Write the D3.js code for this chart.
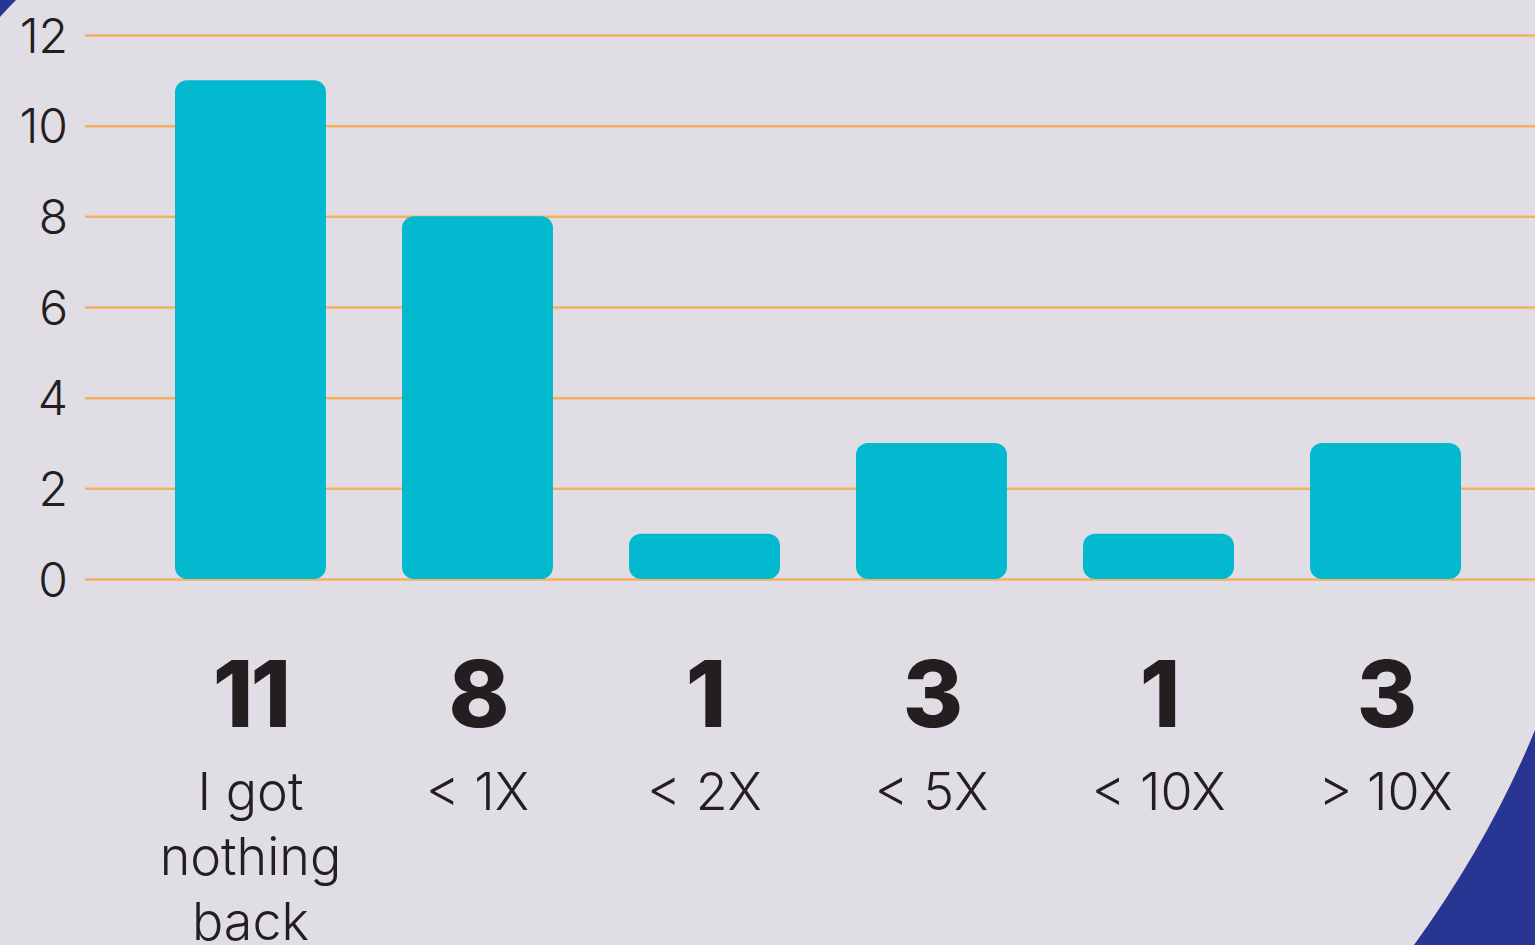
<!DOCTYPE html>
<html>
<head>
<meta charset="utf-8">
<script src="https://cdn.jsdelivr.net/npm/d3@7"></script>
<style>
  html, body { margin: 0; padding: 0; background: #e0dee4; overflow: hidden; }
  svg { display: block; }
</style>
</head>
<body>
<div id="chart"></div>
<script>
'use strict'

// data
const categories = ['I got nothing back', '< 1X', '< 2X', '< 5X', '< 10X', '> 10X']
const categoryLines = [['I got', 'nothing', 'back'], ['< 1X'], ['< 2X'], ['< 5X'], ['< 10X'], ['> 10X']]
const counts = [11, 8, 1, 3, 1, 3]
const yTicks = [0, 2, 4, 6, 8, 10, 12]

////////////////////////////////////
//////////// svg setup /////////////
////////////////////////////////////

const svgWidth = 1535
const svgHeight = 945

const body = d3.select('#chart')
const svg = body.append('svg')
    .attr('width', svgWidth)
    .attr('height', svgHeight)

svg.append('rect')
    .attr('width', svgWidth)
    .attr('height', svgHeight)
    .attr('fill', '#e0dee4')

// decorative blue shapes in the corners
svg.append('path')
    .attr('d', 'M0 0 L16 0 Q8 8 0 17 Z')
    .attr('fill', '#283593')
svg.append('path')
    .attr('d', 'M1535 730 Q1490 840 1414 945 L1535 945 Z')
    .attr('fill', '#283593')

// scales
const y = d3.scaleLinear()
    .domain([0, 12])
    .range([579, 35])

const x = d3.scaleBand()
    .domain(categories)
    .range([61.5, 1574.5])
    .paddingInner(0.335)
    .paddingOuter(0.5)

// gridlines + tick labels
const yAxis = d3.axisLeft(y)
    .tickValues(yTicks)
    .tickSize(-(svgWidth - 85))
    .tickPadding(17)

const gAxis = svg.append('g')
    .attr('transform', 'translate(85,0)')
    .call(yAxis)

gAxis.select('.domain').remove()
gAxis.selectAll('.tick line')
    .attr('stroke', '#f5b062')
    .attr('stroke-width', 2.5)
gAxis.selectAll('.tick text')
    .attr('fill', '#231f20')
    .attr('font-family', 'Inter, sans-serif')
    .attr('font-weight', 300)
    .attr('font-size', 48)
    .attr('dy', '0.36em')

// bars
svg.append('g')
    .selectAll('rect')
    .data(counts)
    .join('rect')
    .attr('x', (d, i) => x(categories[i]))
    .attr('y', d => y(d))
    .attr('width', x.bandwidth())
    .attr('height', d => y(0) - y(d))
    .attr('rx', 12)
    .attr('ry', 12)
    .attr('fill', '#02b9cf')

// value labels
svg.append('g')
    .selectAll('text')
    .data(counts)
    .join('text')
    .attr('x', (d, i) => x(categories[i]) + x.bandwidth() / 2)
    .attr('y', 727)
    .attr('text-anchor', 'middle')
    .attr('fill', '#231f20')
    .attr('font-family', 'Inter, sans-serif')
    .attr('font-weight', 800)
    .attr('font-size', 92)
    .attr('letter-spacing', -3)
    .text(d => d)

// category labels
const catText = svg.append('g')
    .selectAll('text')
    .data(categories)
    .join('text')
    .attr('x', d => x(d) + x.bandwidth() / 2)
    .attr('y', 810)
    .attr('text-anchor', 'middle')
    .attr('fill', '#231f20')
    .attr('font-family', 'Inter, sans-serif')
    .attr('font-weight', 300)
    .attr('font-size', 52)

catText.selectAll('tspan')
    .data((d, i) => categoryLines[i])
    .join('tspan')
    .attr('x', function () { return d3.select(this.parentNode).attr('x') })
    .attr('dy', (d, i) => i === 0 ? 0 : 65)
    .text(d => d)
</script>
</body>
</html>
